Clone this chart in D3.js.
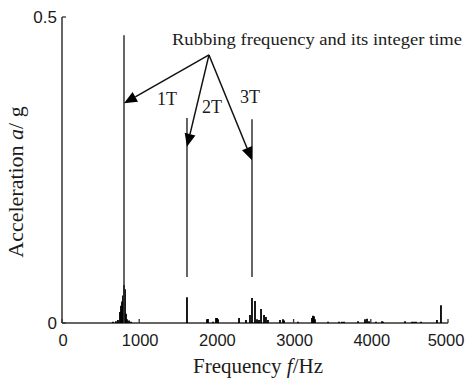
<!DOCTYPE html>
<html><head><meta charset="utf-8">
<script src="https://cdn.jsdelivr.net/npm/d3@7"></script>
<style>body{margin:0;background:#fff}svg{display:block}</style>
</head><body>
<svg id="chart" width="466" height="380"></svg>
<script>
// ---- data ----
const specFreq = [661,699,725,751,764,777,790,803,816,829,842,868,894,
  1619,1878,1891,1956,1995,2008,2021,2293,2383,2435,2461,2500,2526,2552,2578,2617,2642,2668,
  2824,2863,2876,3057,3238,3251,3264,3277,3446,3588,3627,3653,3834,3925,3951,3977,4067,4145,4158,
  4443,4534,4560,4585,4650,4857,4909];
const specAmp = [0.002,0.003,0.005,0.018,0.028,0.035,0.045,0.062,0.055,0.015,0.006,0.004,0.002,
  0.042,0.006,0.0065,0.002,0.008,0.008,0.006,0.008,0.005,0.013,0.041,0.036,0.006,0.005,0.023,0.013,0.010,0.005,
  0.005,0.006,0.004,0.002,0.008,0.012,0.011,0.006,0.002,0.002,0.002,0.002,0.003,0.006,0.007,0.003,0.002,0.003,0.002,
  0.003,0.002,0.002,0.002,0.002,0.005,0.029];
// harmonic marker lines (1T, 2T, 3T)
const markerNames = ["1T","2T","3T"];
const markerFreq = [803, 1619, 2461];
const markerTop = [0.47, 0.335, 0.333];
const markerBottom = [0, 0.075, 0.075];
const arrowTipAmp = [0.359, 0.288, 0.266];
const labelFreq = [1360, 1943, 2435];
const labelAmp = [0.356, 0.343, 0.359];
const arrowOrigin = [1904, 0.438];
const titleText = "Rubbing frequency and its integer time";
const titlePos = [1425, 0.454];
const xTicks = [0,1000,2000,3000,4000,5000];
const yTicks = [0, 0.5];
const yTickLabels = ["0","0.5"];

// ---- chart ----
const svg = d3.select("#chart");
const x = d3.scaleLinear().domain([0,5000]).range([62,448]);
const y = d3.scaleLinear().domain([0,0.5]).range([323,17]);
const ink = "#1a1a1a";
const serif = "Liberation Serif, Times New Roman, serif";

// axes lines
const g = svg.append("g");
g.append("line").attr("x1",x(0)).attr("x2",x(0)).attr("y1",y(0.5)).attr("y2",y(0))
  .attr("stroke","#333").attr("stroke-width",1.5);
g.append("line").attr("x1",x(0)).attr("x2",x(5000)).attr("y1",y(0)).attr("y2",y(0))
  .attr("stroke","#333").attr("stroke-width",1.5);
// ticks inward
g.selectAll(".xt").data(xTicks).join("line")
  .attr("x1",d=>x(d)).attr("x2",d=>x(d)).attr("y1",y(0)).attr("y2",y(0)-4)
  .attr("stroke","#333").attr("stroke-width",1.3);
g.selectAll(".yt").data(yTicks).join("line")
  .attr("x1",x(0)).attr("x2",x(0)+4).attr("y1",d=>y(d)).attr("y2",d=>y(d))
  .attr("stroke","#333").attr("stroke-width",1.3);
g.selectAll(".xl").data(xTicks).join("text")
  .attr("x",d=>Math.min(x(d)+1, 446)).attr("y",346).attr("text-anchor","middle")
  .attr("font-family","Liberation Sans, Arial, sans-serif").attr("font-size",16.5).attr("fill",ink)
  .text(d=>d);
g.selectAll(".yl").data(yTicks).join("text")
  .attr("x",57).attr("y",d=>y(d)+6).attr("text-anchor","end")
  .attr("font-family","Liberation Sans, Arial, sans-serif").attr("font-size",17).attr("fill",ink)
  .text((d,i)=>yTickLabels[i]);

// spectrum
svg.append("g").selectAll("line").data(specFreq).join("line")
  .attr("x1",d=>x(d)).attr("x2",d=>x(d)).attr("y1",y(0))
  .attr("y2",(d,i)=>y(specAmp[i])).attr("stroke","#000").attr("stroke-width",1.8);

// markers
svg.append("g").selectAll("line").data(markerFreq).join("line")
  .attr("x1",d=>x(d)).attr("x2",d=>x(d)).attr("y1",(d,i)=>y(markerBottom[i]))
  .attr("y2",(d,i)=>y(markerTop[i])).attr("stroke","#333").attr("stroke-width",1.5);

// arrows
const ox = x(arrowOrigin[0]), oy = y(arrowOrigin[1]);
const ag = svg.append("g");
markerFreq.forEach((f,i)=>{
  const tx = x(f), ty = y(arrowTipAmp[i]);
  const dx = tx-ox, dy = ty-oy, L = Math.hypot(dx,dy);
  const ux = dx/L, uy = dy/L, hl = 13, hw = 5.5;
  const bx = tx-ux*hl, by = ty-uy*hl;
  ag.append("line").attr("x1",ox).attr("y1",oy).attr("x2",bx).attr("y2",by)
    .attr("stroke","#111").attr("stroke-width",1.5);
  ag.append("polygon").attr("points",[[tx,ty],[bx-uy*hw,by+ux*hw],[bx+uy*hw,by-ux*hw]].map(p=>p.join(",")).join(" "))
    .attr("fill","#000");
  ag.append("text").attr("x",x(labelFreq[i])).attr("y",y(labelAmp[i])).attr("text-anchor","middle")
    .attr("font-family",serif).attr("font-size",18).attr("fill",ink)
    .text(markerNames[i]);
});
svg.append("text").attr("x",x(titlePos[0])).attr("y",y(titlePos[1]))
  .attr("font-family",serif).attr("font-size",17)
  .attr("textLength",290).attr("lengthAdjust","spacingAndGlyphs").attr("fill",ink).text(titleText);

// axis titles
const yt = svg.append("text").attr("transform","translate(23,182) rotate(-90)").attr("text-anchor","middle")
  .attr("font-family",serif).attr("font-size",22).attr("fill",ink);
yt.append("tspan").text("Acceleration ");
yt.append("tspan").attr("font-style","italic").text("a");
yt.append("tspan").text("/ g");
const xt = svg.append("text").attr("x",258).attr("y",373).attr("text-anchor","middle")
  .attr("font-family",serif).attr("font-size",21).attr("fill",ink);
xt.append("tspan").text("Frequency ");
xt.append("tspan").attr("font-style","italic").text("f");
xt.append("tspan").text("/Hz");
</script>
</body></html>
